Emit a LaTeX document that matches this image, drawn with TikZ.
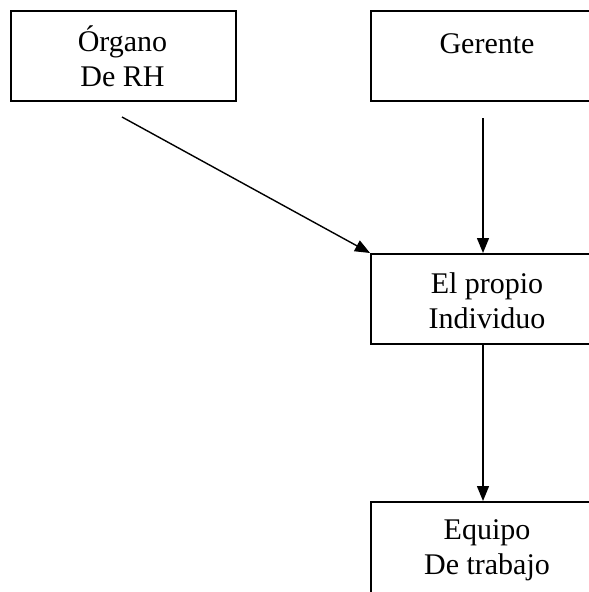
\documentclass[tikz,border=0pt]{standalone}
\usepackage{fontspec}
\setmainfont{Liberation Serif}
\usetikzlibrary{arrows.meta}
\begin{document}
\begin{tikzpicture}[x=1pt,y=-1pt,
  box/.style={draw, line width=1.8pt, rectangle, inner sep=0pt, anchor=north west},
  lbl/.style={anchor=base, inner sep=0pt, align=center, font=\fontsize{30}{35}\selectfont},
  arr/.style={line width=1.4pt, -{Triangle[length=15pt,width=12pt]}}]
\useasboundingbox (0,0) rectangle (589,592);
\clip (0,0) rectangle (589,592);
% boxes
\node[box, minimum width=225pt, minimum height=90pt] (rh) at (10,10) {};
\node[box, minimum width=234pt, minimum height=90pt] (ger) at (370,10) {};
\node[box, minimum width=234pt, minimum height=90pt] (ind) at (370,253) {};
\node[box, minimum width=234pt, minimum height=100pt] (eq) at (370,501) {};
% labels (base anchor sits on the last line)
\node[lbl] (rht) at (122.5,86) {Órgano\\De RH};
\node[lbl] (gert) at (487,53) {Gerente};
\node[lbl] (indt) at (487,328) {El propio\\Individuo};
\node[lbl] (eqt) at (487,574) {Equipo\\De trabajo};
% connectors
\coordinate (s1) at (122,117);
\coordinate (s2) at (483,118);
\coordinate (s3) at (483,0);
\draw[arr] (s1) -- (ind.north west);
\draw[arr] (s2) -- (s2 |- ind.north);
\draw[arr] (s3 |- ind.south) -- (s3 |- eq.north);
\end{tikzpicture}
\end{document}
